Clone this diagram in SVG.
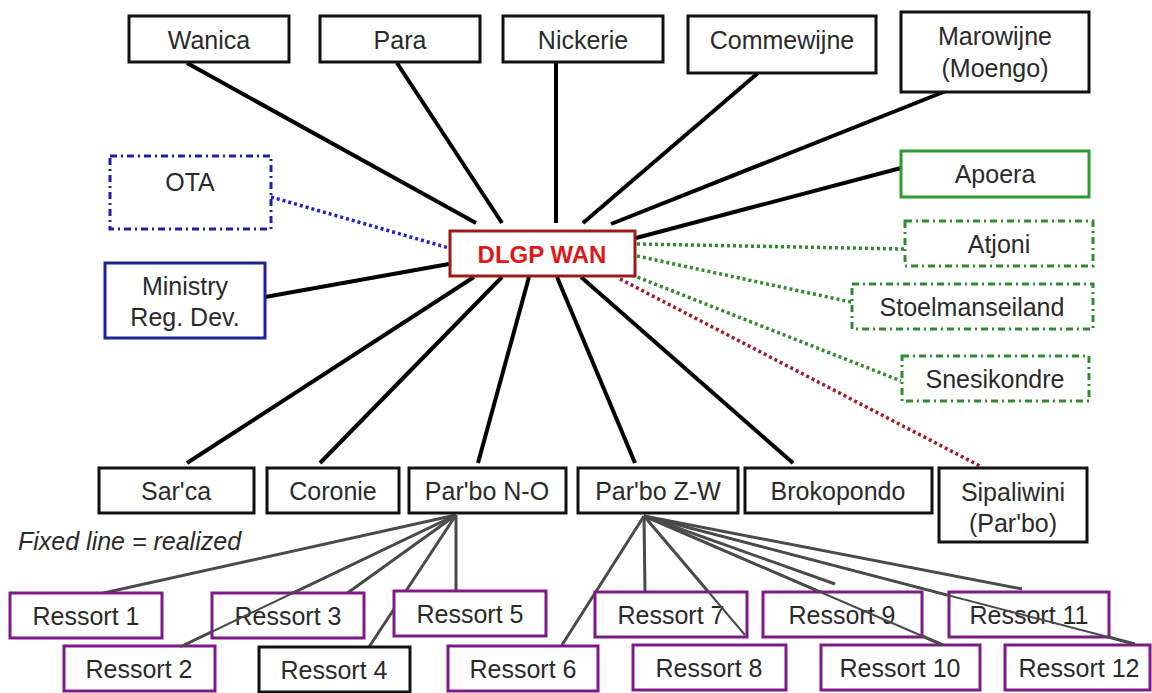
<svg xmlns="http://www.w3.org/2000/svg" width="1152" height="693" viewBox="0 0 1152 693">
<style>
text{font-family:"Liberation Sans",Arial,sans-serif;font-size:25px;fill:#2a2a2a;text-anchor:middle}
.b{fill:#fff;stroke:#111;stroke-width:3}
.g{fill:#fff;stroke:#2e9b2e;stroke-width:3}
.gd{fill:#fff;stroke:#2e8b2e;stroke-width:3;stroke-dasharray:7,4,2,4}
.bd{fill:#fff;stroke:#1f1fa8;stroke-width:3;stroke-dasharray:7,4,2,4}
.bl{fill:#fff;stroke:#1c2590;stroke-width:3}
.p{fill:#fff;stroke:#7d1a86;stroke-width:3}
.k{stroke:#000;stroke-width:4;fill:none}
.gr{stroke:#4a4a4a;stroke-width:3;fill:none}
.dg{stroke:#2e8b2e;stroke-width:3.5;stroke-dasharray:3,3;fill:none}
.db{stroke:#1f1fd0;stroke-width:3.5;stroke-dasharray:3,3;fill:none}
.dr{stroke:#a01a2a;stroke-width:3.5;stroke-dasharray:3,3;fill:none}
</style>
<rect width="1152" height="693" fill="#fff"/>
<g id="connectors">
<line class="k" x1="187" y1="63" x2="476" y2="223"/>
<line class="k" x1="397" y1="63" x2="502" y2="223"/>
<line class="k" x1="556" y1="63" x2="556" y2="223"/>
<line class="k" x1="758" y1="73" x2="583" y2="223"/>
<line class="k" x1="951" y1="89" x2="611" y2="224"/>
<line class="k" x1="901" y1="168" x2="636" y2="238"/>
<line class="k" x1="265" y1="297" x2="449" y2="264"/>
<line class="k" x1="474" y1="277" x2="187" y2="463"/>
<line class="k" x1="502" y1="277" x2="320" y2="463"/>
<line class="k" x1="529" y1="277" x2="478" y2="463"/>
<line class="k" x1="557" y1="277" x2="635" y2="463"/>
<line class="k" x1="581" y1="277" x2="793" y2="463"/>
<line class="db" x1="271" y1="197" x2="449" y2="248"/>
<line class="dg" x1="637" y1="244" x2="904" y2="249"/>
<line class="dg" x1="637" y1="256" x2="851" y2="302"/>
<line class="dg" x1="632" y1="275" x2="901" y2="381"/>
<line class="dr" x1="620" y1="279" x2="980" y2="466"/>
<line class="gr" x1="456" y1="515" x2="99" y2="594"/>
<line class="gr" x1="456" y1="515" x2="180" y2="647"/>
<line class="gr" x1="456" y1="515" x2="346" y2="594"/>
<line class="gr" x1="456" y1="515" x2="369" y2="647"/>
<line class="gr" x1="456" y1="515" x2="456" y2="591"/>
<line class="gr" x1="644" y1="516" x2="562" y2="645"/>
<line class="gr" x1="644" y1="516" x2="645" y2="592"/>
<line class="gr" x1="644" y1="516" x2="745" y2="635"/>
<line class="gr" x1="644" y1="516" x2="835" y2="584"/>
<line class="gr" x1="644" y1="516" x2="943" y2="645"/>
<line class="gr" x1="644" y1="516" x2="1022" y2="589"/>
<line class="gr" x1="644" y1="516" x2="1135" y2="644"/>
</g>
<g id="wanica"><rect class="b" x="129" y="16" width="160" height="46"/><text x="209" y="49">Wanica</text></g>
<g id="para"><rect class="b" x="320" y="16" width="160" height="46"/><text x="400" y="49">Para</text></g>
<g id="nickerie"><rect class="b" x="503" y="16" width="160" height="46"/><text x="583" y="49">Nickerie</text></g>
<g id="commewijne"><rect class="b" x="688" y="16" width="188" height="57"/><text x="782" y="49">Commewijne</text></g>
<g id="marowijne"><rect class="b" x="901" y="12" width="188" height="80"/><text x="995" y="45">Marowijne</text><text x="995" y="77">(Moengo)</text></g>
<g id="apoera"><rect class="g" x="901" y="151" width="188" height="46"/><text x="995" y="183">Apoera</text></g>
<g id="atjoni"><rect class="gd" x="905" y="221" width="188" height="45"/><text x="999" y="253">Atjoni</text></g>
<g id="stoelmanseiland"><rect class="gd" x="852" y="284" width="241" height="45"/><text x="972" y="316">Stoelmanseiland</text></g>
<g id="snesikondre"><rect class="gd" x="902" y="356" width="187" height="45"/><text x="995" y="388">Snesikondre</text></g>
<g id="ota"><rect class="bd" x="110" y="156" width="161" height="73"/><text x="190" y="191">OTA</text></g>
<g id="ministry"><rect class="bl" x="105" y="263" width="160" height="75"/><text x="185" y="295">Ministry</text><text x="185" y="326">Reg. Dev.</text></g>
<g id="dlgp"><rect x="450" y="231" width="185" height="45" fill="#fff" stroke="#9b1b1b" stroke-width="3"/><text x="542" y="263" style="fill:#e01818;font-weight:bold;font-size:24px">DLGP WAN</text></g>
<g id="sarca"><rect class="b" x="99" y="468" width="155" height="45"/><text x="176" y="500">Sar'ca</text></g>
<g id="coronie"><rect class="b" x="267" y="468" width="132" height="45"/><text x="333" y="500">Coronie</text></g>
<g id="parbo-no"><rect class="b" x="409" y="468" width="157" height="45"/><text x="487" y="500">Par'bo N-O</text></g>
<g id="parbo-zw"><rect class="b" x="578" y="468" width="160" height="45"/><text x="658" y="500">Par'bo Z-W</text></g>
<g id="brokopondo"><rect class="b" x="745" y="468" width="187" height="45"/><text x="838" y="500">Brokopondo</text></g>
<g id="sipaliwini"><rect class="b" x="939" y="468" width="148" height="74"/><text x="1013" y="501">Sipaliwini</text><text x="1013" y="532">(Par'bo)</text></g>
<text x="18" y="550" style="text-anchor:start;font-style:italic">Fixed line = realized</text>
<g id="ressort1"><rect class="p" x="10" y="593" width="152" height="45"/><text x="86" y="625">Ressort 1</text></g>
<g id="ressort3"><rect class="p" x="212" y="593" width="152" height="45"/><text x="288" y="625">Ressort 3</text></g>
<g id="ressort5"><rect class="p" x="394" y="591" width="152" height="45"/><text x="470" y="623">Ressort 5</text></g>
<g id="ressort7"><rect class="p" x="595" y="592" width="152" height="45"/><text x="671" y="624">Ressort 7</text></g>
<g id="ressort9"><rect class="p" x="763" y="592" width="159" height="45"/><text x="842" y="624">Ressort 9</text></g>
<g id="ressort11"><rect class="p" x="949" y="592" width="160" height="45"/><text x="1029" y="624">Ressort 11</text></g>
<g id="ressort2"><rect class="p" x="64" y="646" width="151" height="45"/><text x="139" y="678">Ressort 2</text></g>
<g id="ressort4"><rect class="b" x="259" y="647" width="151" height="45"/><text x="334" y="679">Ressort 4</text></g>
<g id="ressort6"><rect class="p" x="448" y="646" width="150" height="45"/><text x="523" y="678">Ressort 6</text></g>
<g id="ressort8"><rect class="p" x="633" y="645" width="153" height="45"/><text x="709" y="677">Ressort 8</text></g>
<g id="ressort10"><rect class="p" x="821" y="645" width="159" height="45"/><text x="900" y="677">Ressort 10</text></g>
<g id="ressort12"><rect class="p" x="1005" y="645" width="145" height="45"/><text x="1079" y="677">Ressort 12</text></g>
<g id="overlines">
<line class="gr" x1="456" y1="515" x2="180" y2="647" style="stroke-width:2"/>
<line class="gr" x1="644" y1="516" x2="745" y2="635" style="stroke-width:2"/>
<line class="gr" x1="644" y1="516" x2="943" y2="645" style="stroke-width:2"/>
<line class="gr" x1="644" y1="516" x2="1135" y2="644" style="stroke-width:2"/>
</g>
</svg>
